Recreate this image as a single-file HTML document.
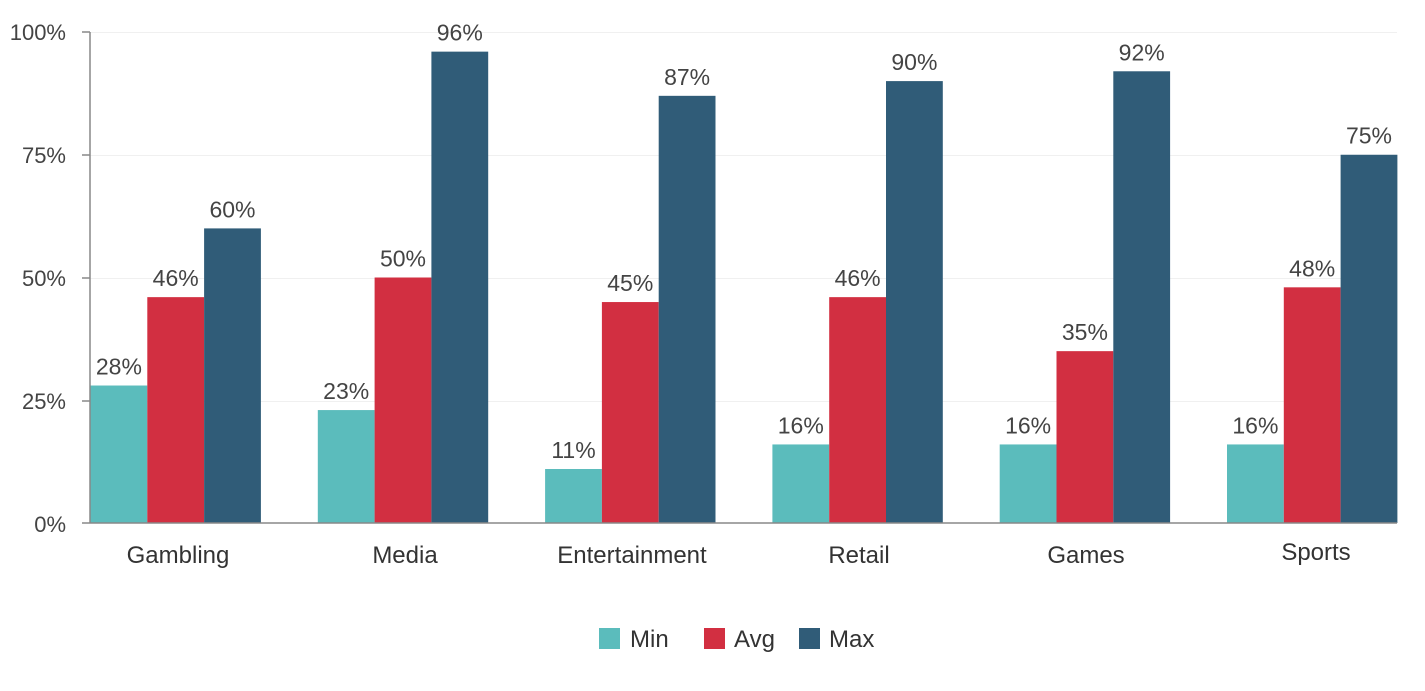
<!DOCTYPE html>
<html><head><meta charset="utf-8"><style>
body{margin:0;background:#fff;}
svg{display:block;font-family:"Liberation Sans",sans-serif;}
</style></head><body>
<svg width="1425" height="691" viewBox="0 0 1425 691">
<g stroke="#f0f0f0" stroke-width="1">
<line x1="90" y1="32.5" x2="1397" y2="32.5"/>
<line x1="90" y1="155.5" x2="1397" y2="155.5"/>
<line x1="90" y1="278.5" x2="1397" y2="278.5"/>
<line x1="90" y1="401.5" x2="1397" y2="401.5"/>
</g>
<g font-size="22" fill="#444" text-anchor="end">
<text x="66" y="40">100%</text>
<text x="66" y="163">75%</text>
<text x="66" y="286">50%</text>
<text x="66" y="409">25%</text>
<text x="66" y="532">0%</text>
</g>
<g>
<rect x="90.5" y="385.52" width="56.8" height="137.48" fill="#5bbcbc"/>
<rect x="147.3" y="297.14" width="56.8" height="225.86" fill="#d22f41"/>
<rect x="204.1" y="228.4" width="56.8" height="294.6" fill="#305c78"/>
<rect x="317.8" y="410.07" width="56.8" height="112.93" fill="#5bbcbc"/>
<rect x="374.6" y="277.5" width="56.8" height="245.5" fill="#d22f41"/>
<rect x="431.4" y="51.64" width="56.8" height="471.36" fill="#305c78"/>
<rect x="545.1" y="469" width="56.8" height="54" fill="#5bbcbc"/>
<rect x="601.9" y="302.05" width="56.8" height="220.95" fill="#d22f41"/>
<rect x="658.7" y="95.83" width="56.8" height="427.17" fill="#305c78"/>
<rect x="772.4" y="444.44" width="56.8" height="78.56" fill="#5bbcbc"/>
<rect x="829.2" y="297.14" width="56.8" height="225.86" fill="#d22f41"/>
<rect x="886" y="81.1" width="56.8" height="441.9" fill="#305c78"/>
<rect x="999.7" y="444.44" width="56.8" height="78.56" fill="#5bbcbc"/>
<rect x="1056.5" y="351.15" width="56.8" height="171.85" fill="#d22f41"/>
<rect x="1113.3" y="71.28" width="56.8" height="451.72" fill="#305c78"/>
<rect x="1227" y="444.44" width="56.8" height="78.56" fill="#5bbcbc"/>
<rect x="1283.8" y="287.32" width="56.8" height="235.68" fill="#d22f41"/>
<rect x="1340.6" y="154.75" width="56.8" height="368.25" fill="#305c78"/>
</g>
<g font-size="23" fill="#444" text-anchor="middle">
<text x="118.9" y="374.5">28%</text>
<text x="175.7" y="286.1">46%</text>
<text x="232.5" y="217.4">60%</text>
<text x="346.2" y="399.1">23%</text>
<text x="403" y="266.5">50%</text>
<text x="459.8" y="40.6">96%</text>
<text x="573.5" y="458">11%</text>
<text x="630.3" y="291">45%</text>
<text x="687.1" y="84.8">87%</text>
<text x="800.8" y="433.4">16%</text>
<text x="857.6" y="286.1">46%</text>
<text x="914.4" y="70.1">90%</text>
<text x="1028.1" y="433.4">16%</text>
<text x="1084.9" y="340.1">35%</text>
<text x="1141.7" y="60.3">92%</text>
<text x="1255.4" y="433.4">16%</text>
<text x="1312.2" y="276.3">48%</text>
<text x="1369" y="143.7">75%</text>
</g>
<g stroke="#888" stroke-width="1.5">
<line x1="90" y1="32" x2="90" y2="523"/>
<line x1="82" y1="523" x2="1397" y2="523"/>
<line x1="82" y1="32" x2="90" y2="32"/>
<line x1="82" y1="155" x2="90" y2="155"/>
<line x1="82" y1="278" x2="90" y2="278"/>
<line x1="82" y1="401" x2="90" y2="401"/>
</g>
<g font-size="24" fill="#333" text-anchor="middle">
<text x="178" y="563">Gambling</text>
<text x="405" y="563">Media</text>
<text x="632" y="563">Entertainment</text>
<text x="859" y="563">Retail</text>
<text x="1086" y="563">Games</text>
<text x="1316" y="560">Sports</text>
</g>
<rect x="599" y="628" width="21" height="21" fill="#5bbcbc"/>
<rect x="704" y="628" width="21" height="21" fill="#d22f41"/>
<rect x="799" y="628" width="21" height="21" fill="#305c78"/>
<g font-size="24" fill="#333">
<text x="630" y="647">Min</text>
<text x="734" y="647">Avg</text>
<text x="829" y="647">Max</text>
</g>
</svg>
</body></html>
